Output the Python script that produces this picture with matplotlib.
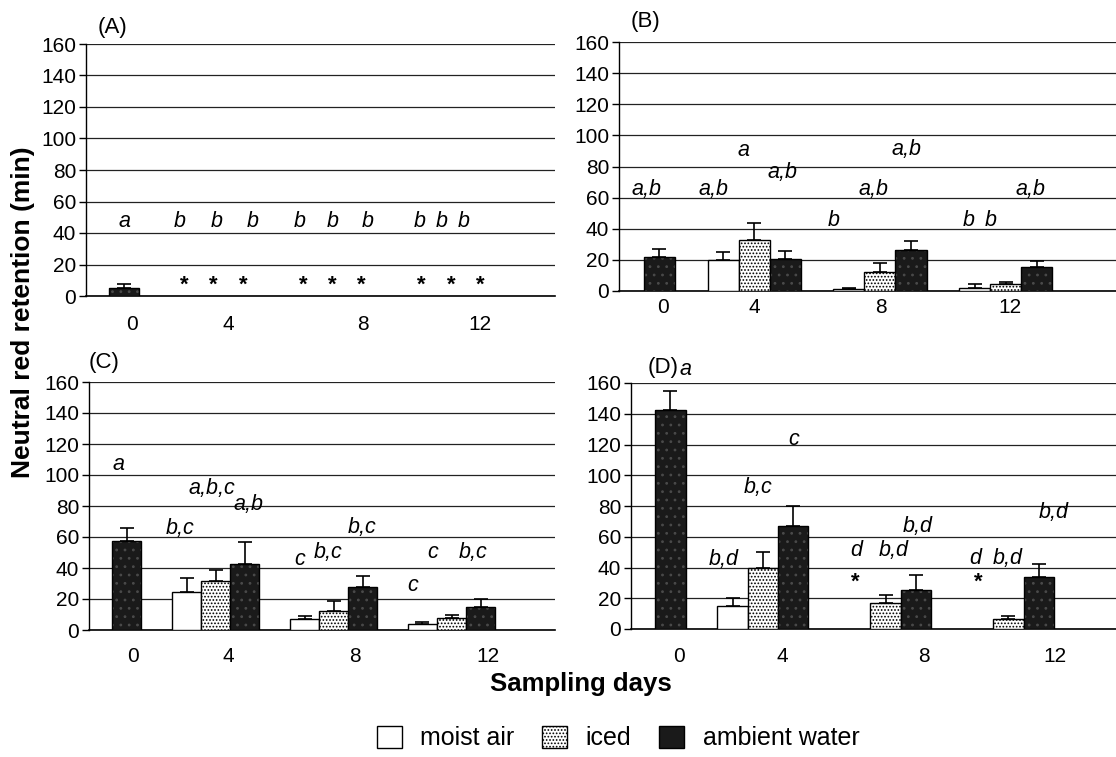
import numpy as np
import matplotlib
matplotlib.use("Agg")
import matplotlib.pyplot as plt
from matplotlib.patches import Patch

plt.rcParams['font.family'] = ['Liberation Sans', 'DejaVu Sans']
plt.rcParams['hatch.linewidth'] = 0.8

days = ["0", "4", "8", "12"]
treatments = ["moist air", "iced", "ambient water"]

# bar order: ambient d0, then moist/iced/ambient for days 4, 8, 12 (nan = no value, marked *)
vals_A = [5, np.nan, np.nan, np.nan, np.nan, np.nan, np.nan, np.nan, np.nan, np.nan]
err_A = [2.5, 0, 0, 0, 0, 0, 0, 0, 0, 0]
vals_B = [22, 20, 33, 20.7, 1.5, 12.4, 26.3, 2, 4.3, 15.2]
err_B = [4.7, 4.8, 10.4, 5.2, 0.5, 5.8, 5.7, 2.5, 1.7, 3.8]
vals_C = [57.6, 24.3, 31.8, 42.5, 7.1, 12.2, 27.5, 3.7, 7.5, 15]
err_C = [8.4, 9, 6.9, 14.5, 1.9, 6.8, 7.3, 1.7, 2.5, 4.8]
vals_D = [142.7, 14.7, 39.6, 67.2, np.nan, 16.9, 25.5, np.nan, 6.7, 33.7]
err_D = [11.9, 5.3, 10.4, 13, 0, 5.1, 9.3, 0, 1.9, 8.5]

letters_A = ["a", "b", "b", "b", "b", "b", "b", "b", "b", "b"]
letters_B = ["a,b", "a,b", "a", "a,b", "b", "a,b", "a,b", "b", "b", "a,b"]
letters_C = ["a", "b,c", "a,b,c", "a,b", "c", "b,c", "b,c", "c", "c", "b,c"]
letters_D = ["a", "b,d", "b,c", "c", "d", "b,d", "b,d", "d", "b,d", "b,d"]

# heights at which the letters sit
lety_A = [47, 47, 47, 47, 47, 47, 47, 47, 47, 47]
lety_B = [65.5, 65.5, 90.5, 76, 45, 65.5, 91, 45, 45, 65]
lety_C = [107, 65.5, 91, 81, 45.5, 50, 66, 29, 50, 50]
lety_D = [169, 45, 92, 123, 51, 51, 66.6, 46, 46, 76]
star_y = {"A": 7, "B": 0, "C": 0, "D": 30.5}

# layout
kinds = [2, 0, 1, 2, 0, 1, 2, 0, 1, 2]
xpos = np.array([1.3, 3.35, 4.35, 5.35, 7.4, 8.4, 9.4, 11.45, 12.45, 13.45])
letdx = {
    "A": [0, -0.15, 0.1, 0.35, -0.1, 0, 0.2, -0.05, -0.3, -0.55],
    "B": [-0.43, -0.3, -0.35, -0.1, -0.5, -0.22, -0.16, -0.18, -0.5, -0.2],
    "C": [-0.3, -0.22, -0.12, 0.11, -0.15, -0.2, -0.02, -0.35, -0.65, -0.25],
    "D": [0.5, -0.28, -0.16, 0.03, 0.03, 0.28, 0.07, -0.1, -0.01, 0.48],
}
tickx = {
    "A": [1.57, 4.85, 9.45, 13.45],
    "B": [1.42, 4.35, 8.44, 12.6],
    "C": [1.5, 4.78, 9.14, 13.7],
    "D": [1.6, 5.0, 9.67, 14.0],
}
tickpad = {"A": 14, "B": 5, "C": 12.5, "D": 13}

W, H = 1116, 757
rects = {
    "A": (86, 44, 555, 296),
    "B": (619, 42, 1116, 291),
    "C": (89, 382, 555, 630),
    "D": (631, 383, 1116, 629),
}
labpos = {"A": (98, 27), "B": (631, 22), "C": (89, 362), "D": (648, 368)}

faces = ["white", "white", "#1a1a1a"]
hatches = [None, ".....", None]

panels = {
    "A": (vals_A, err_A, letters_A, lety_A),
    "B": (vals_B, err_B, letters_B, lety_B),
    "C": (vals_C, err_C, letters_C, lety_C),
    "D": (vals_D, err_D, letters_D, lety_D),
}

fig = plt.figure(figsize=(W / 100, H / 100), dpi=100)

for key, (vals, errs, lets, lety) in panels.items():
    x0, y0, x1, y1 = rects[key]
    ax = fig.add_axes([x0 / W, 1 - y1 / H, (x1 - x0) / W, (y1 - y0) / H])
    for i in range(len(vals)):
        v = vals[i]
        k = kinds[i]
        if np.isnan(v):
            ax.text(xpos[i], star_y[key], "*", ha="center", va="center",
                    fontsize=16, fontweight="bold")
        else:
            if k == 2:
                # speckled dark fill
                ax.bar(xpos[i], v, width=1.0, color=faces[k], edgecolor="#4a4a4a",
                       hatch="..", linewidth=0, zorder=3)
                ax.bar(xpos[i], v, width=1.0, fill=False, edgecolor="black",
                       linewidth=1.0, zorder=4)
            else:
                ax.bar(xpos[i], v, width=1.0, color=faces[k], edgecolor="black",
                       hatch=hatches[k], linewidth=1.0, zorder=3)
            if errs[i] > 0:
                ax.errorbar(xpos[i], v, yerr=[[0], [errs[i]]], fmt="none",
                            ecolor="black", elinewidth=1.2, capsize=5, capthick=1.2,
                            zorder=5)
        ax.text(xpos[i] + letdx[key][i], lety[i], lets[i], ha="center", va="center",
                fontsize=15.5, style="italic", clip_on=False, zorder=6)

    ax.set_xlim(0, 16)
    ax.set_ylim(0, 160)
    ax.set_yticks(range(0, 161, 20))
    ax.set_xticks(tickx[key])
    ax.set_xticklabels(days)
    ax.tick_params(axis="x", length=0, labelsize=15, pad=tickpad[key])
    ax.tick_params(axis="y", length=5, width=1, labelsize=15, pad=2, direction="out")
    for s in ["top", "right"]:
        ax.spines[s].set_visible(False)
    ax.spines["left"].set_linewidth(1.0)
    ax.spines["bottom"].set_linewidth(1.2)
    ax.grid(axis="y", color="#222222", linewidth=0.9, zorder=0)
    ax.set_axisbelow(True)

    lx, ly = labpos[key]
    fig.text(lx / W, 1 - ly / H, f"({key})", ha="left", va="center", fontsize=16)

fig.text(23 / W, 1 - 312 / H, "Neutral red retention (min)", rotation=90,
         ha="center", va="center", fontsize=19, fontweight="bold")
fig.text(581 / W, 1 - 684 / H, "Sampling days", ha="center", va="center",
         fontsize=18.5, fontweight="bold")

handles = [
    Patch(facecolor="white", edgecolor="black", linewidth=1.0),
    Patch(facecolor="white", edgecolor="black", hatch=".....", linewidth=1.0),
    Patch(facecolor="#1a1a1a", edgecolor="black", linewidth=1.0),
]
fig.legend(handles, treatments, ncol=3, loc="center", bbox_to_anchor=(618 / W, 1 - 738 / H),
           frameon=False, fontsize=18, handlelength=1.0, handleheight=1.0,
           handletextpad=0.75, columnspacing=1.1, borderpad=0)

fig.savefig("out.png", dpi=100)
